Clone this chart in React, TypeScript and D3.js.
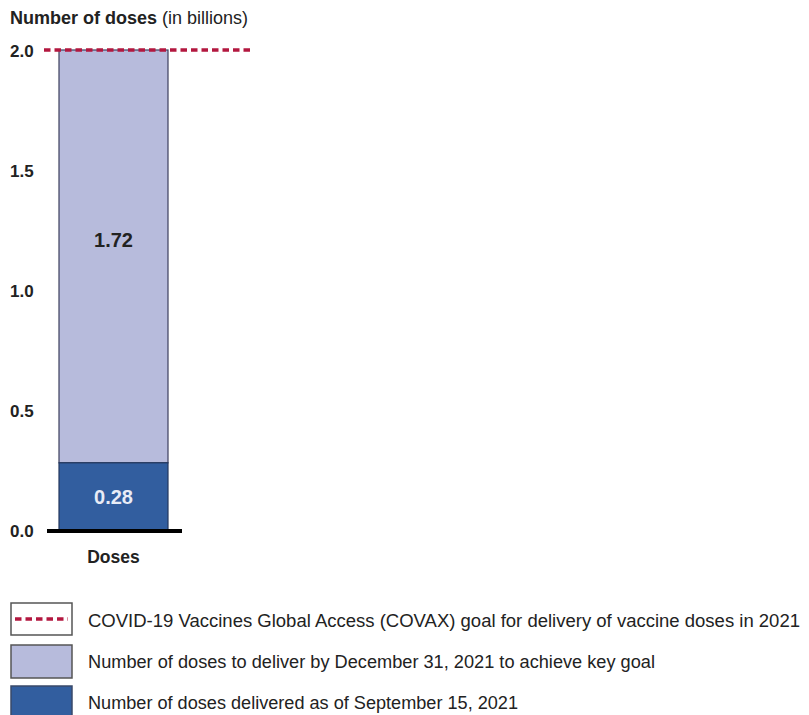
import React from "react";
import * as d3 from "d3";

const categories = ["Doses"];
const delivered = [0.28];
const remaining = [1.72];
const goal = 2.0;
const yTicks = [0, 0.5, 1.0, 1.5, 2.0];
const legendLabels = [
  "COVID-19 Vaccines Global Access (COVAX) goal for delivery of vaccine doses in 2021",
  "Number of doses to deliver by December 31, 2021 to achieve key goal",
  "Number of doses delivered as of September 15, 2021",
];

const LIGHT = "#b7bbdc";
const DARK = "#325e9f";
const RED = "#b3173f";
const FONT = "Liberation Sans, Arial, sans-serif";

export default function App() {
  const W = 809, H = 715;
  const y = d3.scaleLinear().domain([0, 2]).range([530, 50]);
  const x = d3.scaleBand().domain(categories).range([59, 168]).padding(0);
  const legendWidths = [712, 567, 430];

  return (
    <svg width={W} height={H} style={{ position: "absolute", left: 0, top: 0, background: "#fff" }} fontFamily={FONT}>
      <text x={10} y={18} dy="0.36em" fontSize={18} fill="#222">
        <tspan fontWeight="bold">Number of doses</tspan>
        <tspan> (in billions)</tspan>
      </text>
      {yTicks.map((t) => (
        <text key={t} x={10} y={y(t) + 1} dy="0.36em" fontSize={17} fontWeight="bold" fill="#222">
          {t.toFixed(1)}
        </text>
      ))}
      {categories.map((c, i) => {
        const x0 = x(c)!;
        const bw = x.bandwidth();
        const top = delivered[i] + remaining[i];
        return (
          <g key={c}>
            <rect x={x0} y={y(top)} width={bw} height={y(delivered[i]) - y(top)} fill={LIGHT} stroke="#3c3f5e" strokeWidth={1.2} />
            <rect x={x0} y={y(delivered[i])} width={bw} height={y(0) - y(delivered[i])} fill={DARK} stroke="#23375e" strokeWidth={1.2} />
            <text x={x0 + bw / 2} y={240} dy="0.36em" textAnchor="middle" fontSize={20} fontWeight="bold" fill="#222">
              {remaining[i].toFixed(2)}
            </text>
            <text x={x0 + bw / 2} y={y(delivered[i] / 2)} dy="0.36em" textAnchor="middle" fontSize={20} fontWeight="bold" fill="#e8ecf6">
              {delivered[i].toFixed(2)}
            </text>
            <text x={x0 + bw / 2} y={557} dy="0.36em" textAnchor="middle" fontSize={17.5} fontWeight="bold" fill="#222">
              {c}
            </text>
          </g>
        );
      })}
      <line x1={47} x2={182} y1={y(0) + 1} y2={y(0) + 1} stroke="#000" strokeWidth={4} />
      <line x1={44} x2={250} y1={y(goal)} y2={y(goal)} stroke={RED} strokeWidth={3.5} strokeDasharray="6.5 4" strokeLinecap="butt" />

      {/* legend */}
      <rect x={11} y={603} width={61} height={32} fill="#fff" stroke="#555" strokeWidth={1.5} />
      <line x1={15} x2={68} y1={619} y2={619} stroke={RED} strokeWidth={3.5} strokeDasharray="6.5 4" />
      <rect x={11} y={645} width={61} height={33} fill={LIGHT} stroke="#555" strokeWidth={1.5} />
      <rect x={11} y={686} width={61} height={33} fill={DARK} stroke="#3a4a6a" strokeWidth={1.5} />
      {legendLabels.map((l, i) => (
        <text key={i} x={88} y={[621, 662, 703][i]} dy="0.36em" fontSize={17.5} fill="#222"
          textLength={legendWidths[i]} lengthAdjust="spacingAndGlyphs">
          {l}
        </text>
      ))}
    </svg>
  );
}
